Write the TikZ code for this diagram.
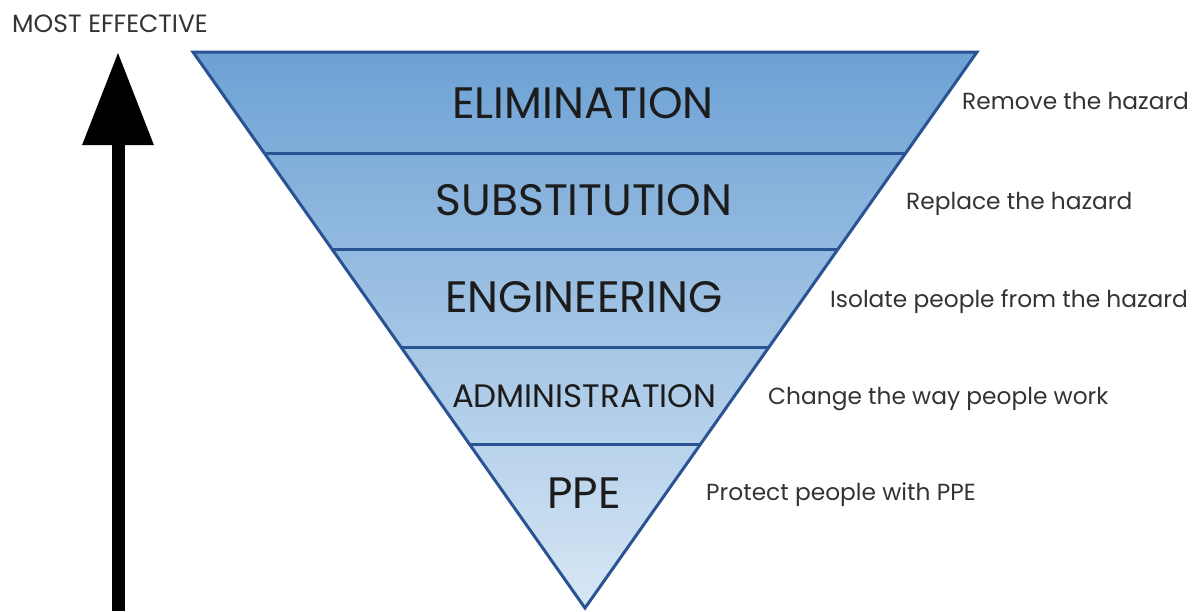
\documentclass[tikz,border=0pt]{standalone}
\usepackage{fontspec}
\setmainfont{Poppins}
\usetikzlibrary{arrows.meta,calc}
\definecolor{edge}{HTML}{2A5394}
\definecolor{topblue}{HTML}{6CA1D4}
\definecolor{botblue}{HTML}{D8E7F5}
\definecolor{txt}{HTML}{1C1C1C}
\definecolor{side}{HTML}{333333}
\tikzset{
  level/.style={font=\fontsize{44}{44}\selectfont, text=txt, inner sep=0pt},
  sidelabel/.style={font=\fontsize{23.3}{23.3}\selectfont, text=side, anchor=west, inner sep=0pt},
  band/.style={draw=edge, line width=3pt},
}
\begin{document}
\begin{tikzpicture}[x=1pt,y=-1pt]
\useasboundingbox (0,0) rectangle (1200,611);
\coordinate (A) at (193,52);
\coordinate (B) at (977,52);
\coordinate (C) at (585,608);
\begin{scope}
  \clip (A) -- (B) -- (C) -- cycle;
  \shade[top color=topblue, bottom color=botblue] (190,50) rectangle (980,610);
\end{scope}
\foreach \t [count=\i] in {0.1817,0.3561,0.5306,0.7068}{
  \coordinate (L\i) at ($(A)!\t!(C)$);
  \coordinate (R\i) at ($(B)!\t!(C)$);
}
\draw[band] (L1) -- (R1);
\draw[band] (L2) -- (R2);
\draw[band] (L3) -- (R3);
\draw[band] (L4) -- (R4);
\draw[band, line join=miter] (A) -- (B) -- (C) -- cycle;
\node[level] (elim) at (583,103) {ELIMINATION};
\node[level] (subst) at (584,200) {SUBSTITUTION};
\node[level] (eng) at (584,297) {ENGINEERING};
\node[level, font=\fontsize{32.5}{32.5}\selectfont] (admin) at (584,396) {ADMINISTRATION};
\node[level] (ppe) at (584,493) {PPE};
\node[sidelabel] (s1) at (962,101) {Remove the hazard};
\node[sidelabel] (s2) at (906,204) {Replace the hazard};
\node[sidelabel] (s3) at (830,302) {Isolate people from the hazard};
\node[sidelabel] (s4) at (768,399) {Change the way people work};
\node[sidelabel] (s5) at (706,495) {Protect people with PPE};
\node[font=\fontsize{25}{25}\selectfont, text=side, anchor=west, inner sep=0pt] (most) at (12,24) {MOST EFFECTIVE};
\coordinate (abot) at (118,611);
\coordinate (atop) at (118,52);
\draw[line width=13pt, -{Triangle[length=93pt,width=68pt]}] (abot) -- (atop);
\end{tikzpicture}
\end{document}
